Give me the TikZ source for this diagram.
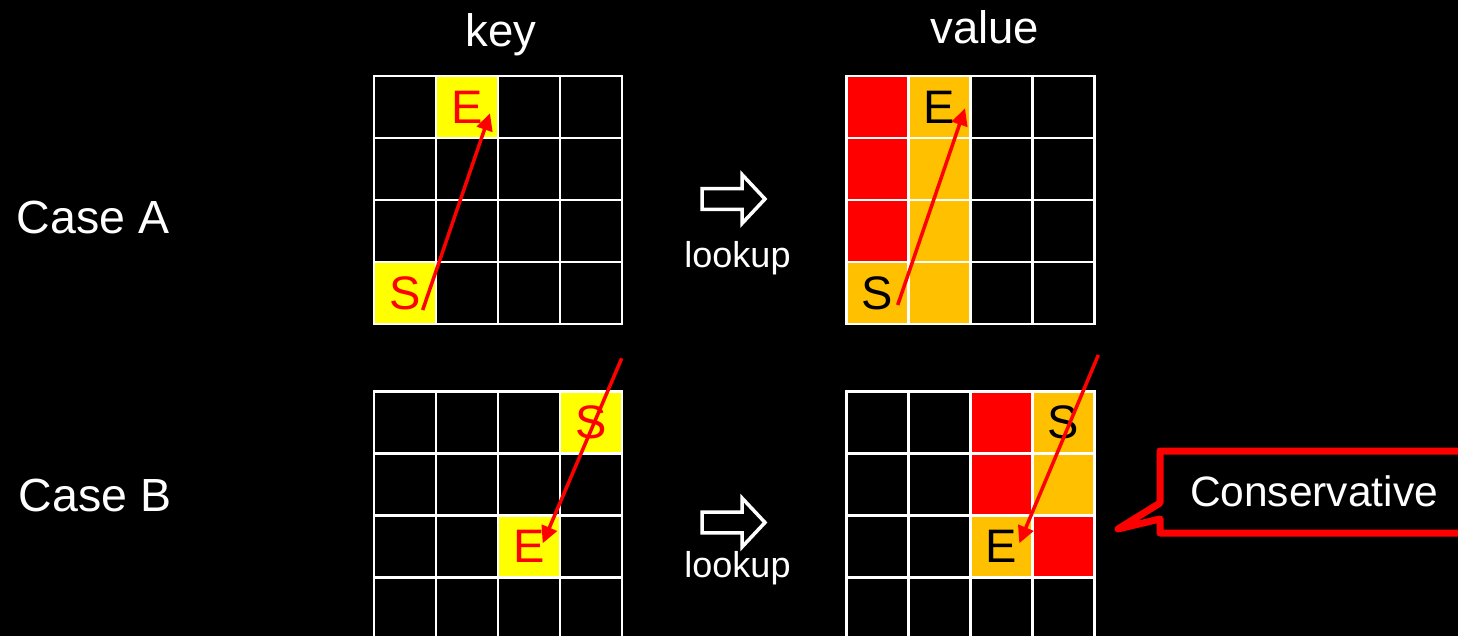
\documentclass[tikz,border=0pt]{standalone}
\usepackage{fontspec}
\setmainfont{Liberation Sans}
\usetikzlibrary{arrows.meta}
\definecolor{cyel}{RGB}{255,255,0}
\definecolor{cred}{RGB}{255,0,0}
\definecolor{corg}{RGB}{255,192,0}
\tikzset{
  cell/.style={draw=white, line width=2.8pt, fill=black, minimum size=62pt, inner sep=0pt,
               font=\fontsize{47}{47}\selectfont},
  ycell/.style={cell, fill=cyel, text=cred},
  rcell/.style={cell, fill=cred},
  ocell/.style={cell, fill=corg, text=black},
  link/.style={draw=cred, line width=3.5pt, -{Triangle[length=17pt,width=16pt]}},
  lbl/.style={text=white, inner sep=0pt, anchor=base},
  title/.style={lbl, font=\fontsize{45.5}{45.5}\selectfont},
  casel/.style={lbl, anchor=base west, font=\fontsize{46.5}{46.5}\selectfont},
  lookl/.style={lbl, font=\fontsize{36}{36}\selectfont},
  hollow/.style={draw=white, line width=3.5pt, fill=black, line join=miter},
  callout/.style={draw=cred, line width=7pt, line join=round},
}
\newcommand\mygrid[3]{%
  \foreach \r in {1,...,4}{\foreach \c in {1,...,4}{%
    \node[cell] (#1\r\c) at ({#2+62*(\c-0.5)},{#3+62*(\r-0.5)}) {};}}}
\newcommand\blockarrow[2]{%
  \draw[hollow] (#1-63,#2-10.3) -- (#1-23,#2-10.3) -- (#1-23,#2-24.5) -- (#1,#2)
     -- (#1-23,#2+24.5) -- (#1-23,#2+10.3) -- (#1-63,#2+10.3) -- cycle;}
\begin{document}
\begin{tikzpicture}[x=1pt,y=-1pt]
\fill[black] (0,0) rectangle (1458,636);
\useasboundingbox (0,0) rectangle (1458,636);
\clip (0,0) rectangle (1458,636);

% titles
\node[title] (tkey) at (501,46.7) {key};
\node[title] (tval) at (984.7,43.3) {value};
\node[casel] (caseA) at (16.5,234) {Case A};
\node[casel] (caseB) at (18.5,511.7) {Case B};

% grids
\mygrid{kA}{374}{76}
\mygrid{vA}{846.5}{76}
\mygrid{kB}{374}{391.5}
\mygrid{vB}{846.5}{391.5}

% Case A key
\node[ycell] (kAE) at (kA12) {E};
\node[ycell] (kAS) at (kA41) {S};
% Case A value
\node[rcell] (vAr1) at (vA11) {};
\node[rcell] (vAr2) at (vA21) {};
\node[rcell] (vAr3) at (vA31) {};
\node[ocell] (vAS) at (vA41) {S};
\node[ocell] (vAE) at (vA12) {E};
\node[ocell] (vAo2) at (vA22) {};
\node[ocell] (vAo3) at (vA32) {};
\node[ocell] (vAo4) at (vA42) {};

% Case B key
\node[ycell] (kBS) at (kB14) {S};
\node[ycell] (kBE) at (kB33) {E};
% Case B value
\node[rcell] (vBr1) at (vB13) {};
\node[rcell] (vBr2) at (vB23) {};
\node[ocell] (vBS) at (vB14) {S};
\node[ocell] (vBo2) at (vB24) {};
\node[ocell] (vBE) at (vB33) {E};
\node[rcell] (vBr3) at (vB34) {};

% red arrows
\coordinate (a1s) at (422.7,310);   \coordinate (a1e) at (490,113.3);
\coordinate (a2s) at (897.7,305);   \coordinate (a2e) at (965,108.3);
\coordinate (a3s) at (621.7,358.3); \coordinate (a3e) at (542.7,543.3);
\coordinate (a4s) at (1098.3,355);  \coordinate (a4e) at (1019.3,543.3);
\draw[link] (a1s) -- (a1e);
\draw[link] (a2s) -- (a2e);
\draw[link] (a3s) -- (a3e);
\draw[link] (a4s) -- (a4e);

% lookup arrows
\blockarrow{765}{199}
\node[lookl] (lookA) at (737.5,267.3) {lookup};
\blockarrow{765}{522.5}
\node[lookl] (lookB) at (737.5,577.3) {lookup};

% callout
\draw[callout] (1160,503) -- (1160,451) -- (1475,451) -- (1475,533) -- (1160,533)
   -- (1160,519) -- (1118,529) -- cycle;
\node[lbl, font=\fontsize{42.5}{42.5}\selectfont] (cons) at (1314,506.7) {Conservative};
\end{tikzpicture}
\end{document}
